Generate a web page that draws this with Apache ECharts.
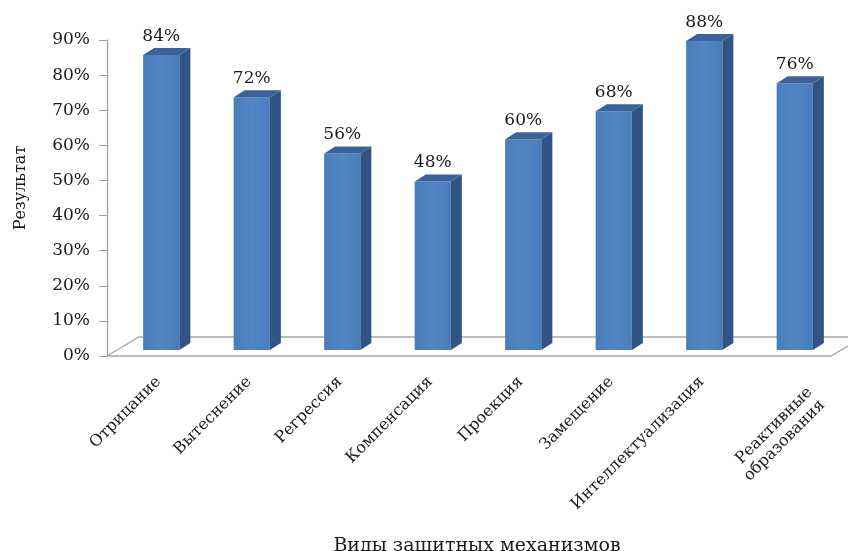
<!DOCTYPE html>
<html>
<head>
<meta charset="utf-8">
<script src="https://cdn.jsdelivr.net/npm/echarts@6/dist/echarts.min.js"></script>
<style>
html,body{margin:0;padding:0;background:#fff;}
#chart{width:848px;height:551px;}
</style>
</head>
<body>
<div id="chart"></div>
<script>
const categories = ['Отрицание','Вытеснение','Регрессия','Компенсация','Проекция','Замещение','Интеллектуализация','Реактивные\nобразования'];
const values = [84,72,56,48,60,68,88,76];
const yTicks = [0,10,20,30,40,50,60,70,80,90];

const FONT = 'DejaVu Serif';
const chart = echarts.init(document.getElementById('chart'));

function renderFloor(params, api) {
  const cs = params.coordSys;
  const x0 = cs.x, x1 = cs.x + cs.width, yb = cs.y + cs.height;
  const ddx = 32, ddy = -19;
  return {
    type: 'polygon',
    shape: { points: [[x0, yb], [x1, yb], [x1 + ddx, yb + ddy], [x0 + ddx, yb + ddy]] },
    style: { fill: '#ffffff', stroke: '#a6a6a6', lineWidth: 1.3 }
  };
}

function renderBar(params, api) {
  const i = api.value(0), v = api.value(1);
  const top = api.coord([i, v]);
  const base = api.coord([i, 0]);
  const band = api.size([1, 0])[0];
  const w = band * 0.40;
  const ox = 9, oy = -6;
  const dx = 11, dy = -7;
  const x0 = top[0] - w / 2 + ox, x1 = x0 + w;
  const yT = top[1] + oy, yB = base[1] + oy;
  return {
    type: 'group',
    children: [
      { type: 'rect', shape: { x: x0, y: yT, width: w, height: yB - yT },
        style: { fill: new echarts.graphic.LinearGradient(0, 0, 1, 0, [
          { offset: 0, color: '#4a7cba' }, { offset: 0.5, color: '#5086c4' }, { offset: 1, color: '#4a7cba' }]) } },
      { type: 'polygon', shape: { points: [[x1, yT], [x1 + dx, yT + dy], [x1 + dx, yB + dy], [x1, yB]] },
        style: { fill: '#2f5485' } },
      { type: 'polygon', shape: { points: [[x0, yT], [x0 + dx, yT + dy], [x1 + dx, yT + dy], [x1, yT]] },
        style: { fill: '#3b6399' } },
      { type: 'text', style: { text: v + '%', x: (x0 + x1) / 2, y: yT + dy - 3,
        align: 'center', verticalAlign: 'bottom', fill: '#1a1a1a', font: '17px "' + FONT + '"' } }
    ]
  };
}

const xData = categories.map(function (c, i) {
  if (c.indexOf('\n') >= 0) {
    return { value: c, textStyle: { verticalAlign: 'top', padding: [20, -5, 0, 0] } };
  }
  return c;
});

chart.setOption({
  animation: false,
  grid: { left: 107, right: 17, top: 40, bottom: 195, containLabel: false, outerBoundsMode: 'none' },
  xAxis: {
    type: 'category',
    data: xData,
    boundaryGap: true,
    axisLine: { show: false },
    axisTick: { show: false },
    axisLabel: { interval: 0, rotate: 45, margin: 17, verticalAlign: 'top', color: '#1a1a1a', fontFamily: FONT, fontSize: 16, lineHeight: 18 },
    name: 'Виды защитных механизмов',
    nameLocation: 'middle',
    nameGap: 181,
    nameTextStyle: { fontFamily: FONT, fontSize: 19, color: '#1a1a1a', padding: [0, 0, 0, 16] }
  },
  yAxis: {
    type: 'value',
    min: 0, max: 90, interval: 10,
    axisLine: { show: true, lineStyle: { color: '#a0a0a0', width: 1.3 } },
    axisTick: { show: true, length: 8, lineStyle: { color: '#a0a0a0' } },
    splitLine: { show: false },
    axisLabel: { formatter: function (v) { return v + '%'; }, margin: 17, color: '#1a1a1a', fontFamily: FONT, fontSize: 17 },
    name: 'Результат',
    nameLocation: 'middle',
    nameRotate: 90,
    nameGap: 78,
    nameTextStyle: { fontFamily: FONT, fontSize: 16, color: '#1a1a1a', padding: [0, 0, 0, 20] }
  },
  series: [
    { type: 'custom', renderItem: renderFloor, data: [[0, 0]], z: 1, silent: true },
    { type: 'custom', renderItem: renderBar, data: values.map(function (v, i) { return [i, v]; }), z: 2 }
  ]
});
</script>
</body>
</html>
